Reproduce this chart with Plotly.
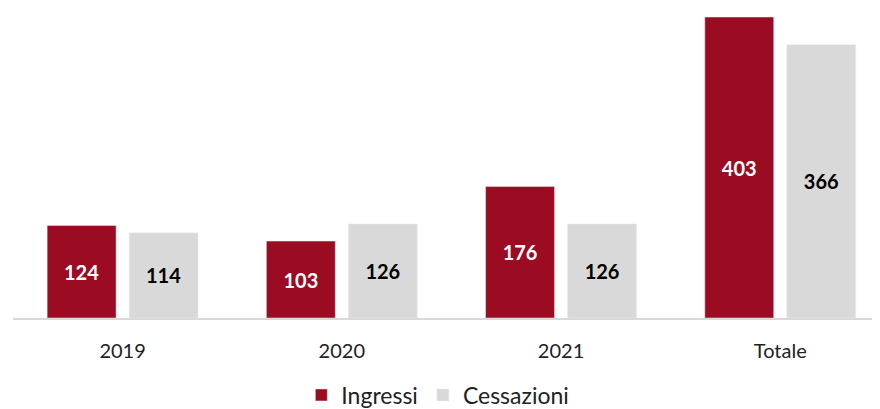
import plotly.graph_objects as go

categories = ["2019", "2020", "2021", "Totale"]
ingressi = [124, 103, 176, 403]
cessazioni = [114, 126, 126, 366]

RED = "#9B0C23"
GRAY = "#D9D9D9"
FONT = "Lato"

fig = go.Figure()
fig.add_trace(go.Bar(
    name="Ingressi", x=categories, y=ingressi, marker_color=RED,
    text=[str(v) for v in ingressi], textposition="inside", insidetextanchor="middle",
    textfont=dict(family=FONT, size=20, color="white", weight="bold"),
    cliponaxis=False,
))
fig.add_trace(go.Bar(
    name="Cessazioni", x=categories, y=cessazioni, marker_color=GRAY,
    text=[str(v) for v in cessazioni], textposition="inside", insidetextanchor="middle",
    textfont=dict(family=FONT, size=20, color="black", weight="bold"),
    cliponaxis=False,
))

# page body has an 8px default margin, so the figure is sized/offset to compensate
fig.update_layout(
    width=872, height=401,
    margin=dict(l=5, r=0, t=2, b=91, autoexpand=False),
    paper_bgcolor="white", plot_bgcolor="white",
    barmode="group", bargap=0.252, bargroupgap=0.159,
    font=dict(family=FONT, size=20, color="#222222"),
    showlegend=True,
    legend=dict(orientation="h", x=0.49, xanchor="center", y=-0.25, yanchor="middle",
                font=dict(family=FONT, size=23, color="#222222"), itemwidth=30),
    uniformtext=dict(mode=False),
)
fig.update_xaxes(
    type="category", range=[-0.5, 3.455],
    showline=True, linecolor=GRAY, linewidth=1.5,
    ticks="", showgrid=False, ticklabelstandoff=14,
    tickfont=dict(family=FONT, size=20, color="#222222"),
)
fig.update_yaxes(
    range=[0, 412.4], visible=False, showgrid=False, zeroline=False,
)

fig.write_html("out.html")
